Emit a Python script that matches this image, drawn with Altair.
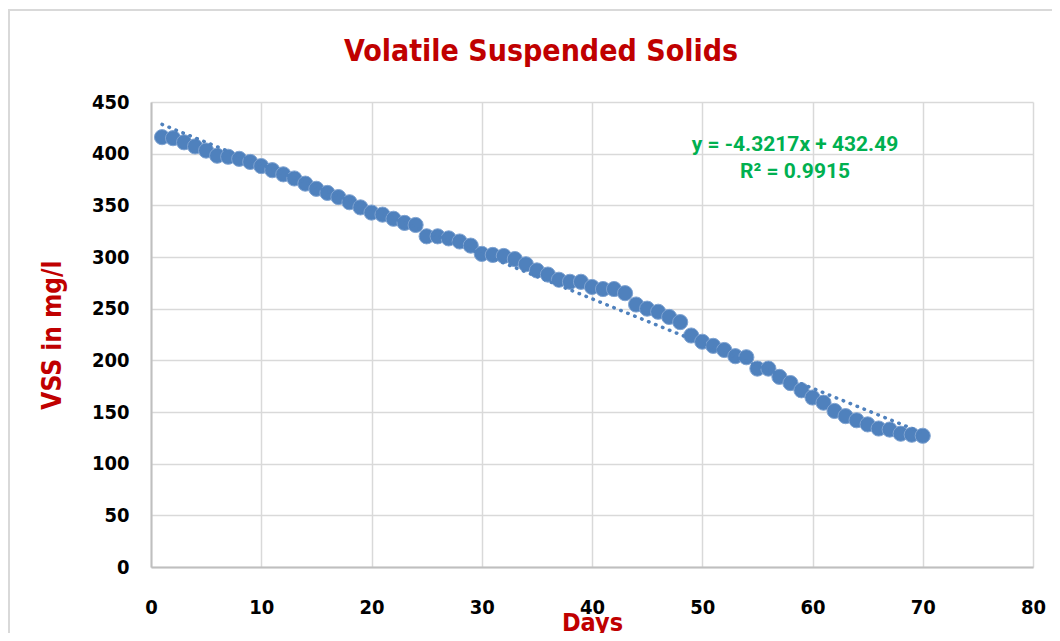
import altair as alt
import pandas as pd

days = list(range(1, 71))
vss = [416, 415, 411, 407, 403, 398, 397, 395, 392, 388,
       384, 380, 376, 371, 366, 362, 358, 353, 348, 343,
       341, 337, 333, 331, 320, 320, 318, 315, 311, 303,
       302, 301, 298, 293, 287, 283, 278, 276, 276, 271,
       269, 269, 265, 254, 250, 247, 242, 237, 224, 218,
       214, 210, 204, 203, 192, 192, 184, 178, 171, 164,
       159, 151, 146, 142, 138, 134, 133, 129, 128, 127]
x_ticks = [0, 10, 20, 30, 40, 50, 60, 70, 80]
y_ticks = [0, 50, 100, 150, 200, 250, 300, 350, 400, 450]
eq_lines = ["y = -4.3217x + 432.49", "R² = 0.9915"]
title_text = "Volatile Suspended Solids"
x_title = "Days"
y_title = "VSS in mg/l"

df = pd.DataFrame({"day": days, "vss": vss})

FONT = "DejaVu Sans Condensed"
RED = "#C00000"
BLUE = "#4F81BD"

xs = alt.Scale(domain=[0, 80], nice=False)
ys = alt.Scale(domain=[0, 450], nice=False)

xax = alt.Axis(values=x_ticks, title=x_title, grid=True, ticks=False,
               labelFlush=False, labelPadding=30, titlePadding=-7,
               labelFontSize=20, titleFontSize=25, titleColor=RED)
yax = alt.Axis(values=y_ticks, title=y_title, grid=True, ticks=False,
               labelFlush=False, labelPadding=22, titlePadding=26,
               labelFontSize=20, titleFontSize=26, titleColor=RED)

frame = alt.Chart(pd.DataFrame({"k": [0]})).mark_rect(
    fill=None, stroke="#d9d9d9", strokeWidth=2
).encode(x=alt.value(-142), x2=alt.value(940),
         y=alt.value(-92), y2=alt.value(600))

title = alt.Chart(pd.DataFrame({"t": [title_text]})).mark_text(
    font=FONT, fontWeight="bold", fontSize=30, color=RED,
    align="center", baseline="middle"
).encode(text="t:N", x=alt.value(390), y=alt.value(-50))

points = alt.Chart(df).mark_circle(size=230, color=BLUE, opacity=1,
                                   stroke="#7fa3d1", strokeWidth=1).encode(
    x=alt.X("day:Q", scale=xs, axis=xax),
    y=alt.Y("vss:Q", scale=ys, axis=yax),
)

trend = alt.Chart(df).transform_regression(
    "day", "vss", extent=[1, 70]
).mark_line(color=BLUE, strokeWidth=3.5, strokeDash=[0.5, 7],
            strokeCap="round").encode(
    x=alt.X("day:Q", scale=xs),
    y=alt.Y("vss:Q", scale=ys),
)

eq_df = pd.DataFrame({"t": eq_lines})
eq_style = dict(font="Roboto", fontWeight="bold", fontSize=21,
                color="#00B050", align="center", baseline="middle")
eq1 = alt.Chart(eq_df).transform_filter(
    alt.datum.t == eq_lines[0]
).mark_text(**eq_style).encode(text="t:N", x=alt.value(644), y=alt.value(43))
eq2 = alt.Chart(eq_df).transform_filter(
    alt.datum.t == eq_lines[1]
).mark_text(**eq_style).encode(text="t:N", x=alt.value(644), y=alt.value(70))

chart = alt.layer(frame, title, points, trend, eq1, eq2).properties(
    width=882,
    height=465,
    padding={"left": 143, "top": 94, "right": 19, "bottom": 66},
    autosize=alt.AutoSizeParams(type="none"),
).configure_view(stroke=None).configure_axis(
    labelFont=FONT, titleFont=FONT, labelFontWeight="bold",
    titleFontWeight="bold", labelColor="#000000",
    gridColor="#d9d9d9", gridWidth=1.5,
    domainColor="#bfbfbf", domainWidth=2,
)

chart.save("out.html", embed_options={"renderer": "svg", "actions": False})
